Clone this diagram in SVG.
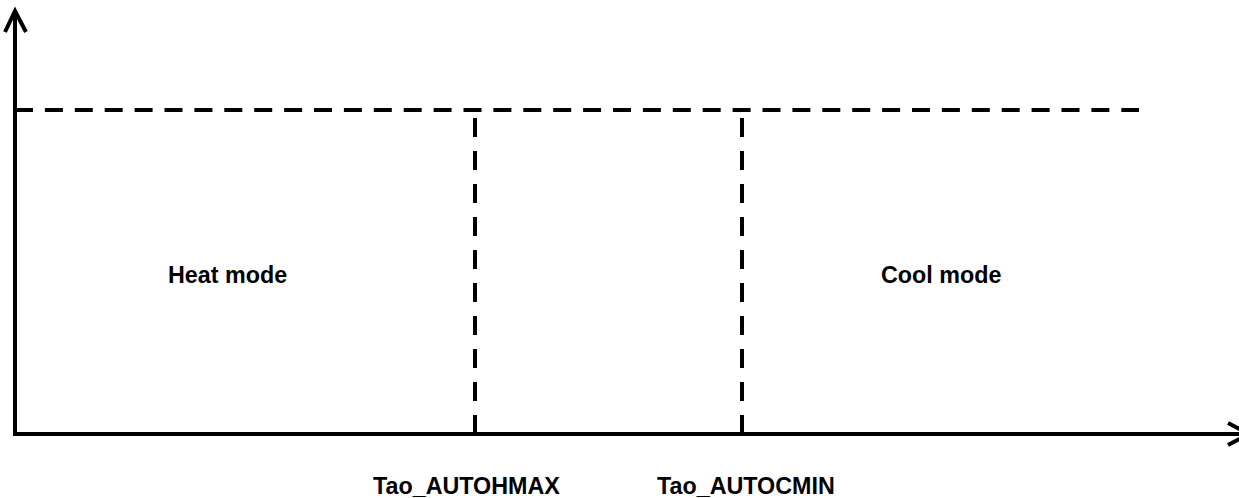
<svg xmlns="http://www.w3.org/2000/svg" width="1239" height="498" viewBox="0 0 1239 498">
<style>
.axis{stroke:#000;stroke-width:4;fill:none}
.dash{stroke:#000;stroke-width:4;fill:none}
.lbl{font-family:"Liberation Sans",Arial,sans-serif;font-weight:bold;font-size:23.3px;fill:#000}
</style>
<rect width="1239" height="498" fill="#fff"/>
<g id="connectors">
<line class="axis" x1="15" y1="12" x2="15" y2="436"/>
<polyline class="axis" points="5,32 15,11 26,32"/>
<line class="axis" x1="13" y1="434" x2="1248" y2="434"/>
<polyline class="axis" points="1228,423 1249,434 1228,445"/>
<line class="dash" x1="15" y1="110" x2="1139" y2="110" stroke-dasharray="18 11.9"/>
<line class="dash" x1="475" y1="118" x2="475" y2="434" stroke-dasharray="19 14"/>
<line class="dash" x1="742" y1="118" x2="742" y2="434" stroke-dasharray="19 14"/>
</g>
<g id="heat"><text class="lbl" x="168" y="283">Heat mode</text></g>
<g id="cool"><text class="lbl" x="881" y="283">Cool mode</text></g>
<g id="hmax"><text class="lbl" x="373" y="494">Tao_AUTOHMAX</text></g>
<g id="cmin"><text class="lbl" x="657" y="494">Tao_AUTOCMIN</text></g>
</svg>
